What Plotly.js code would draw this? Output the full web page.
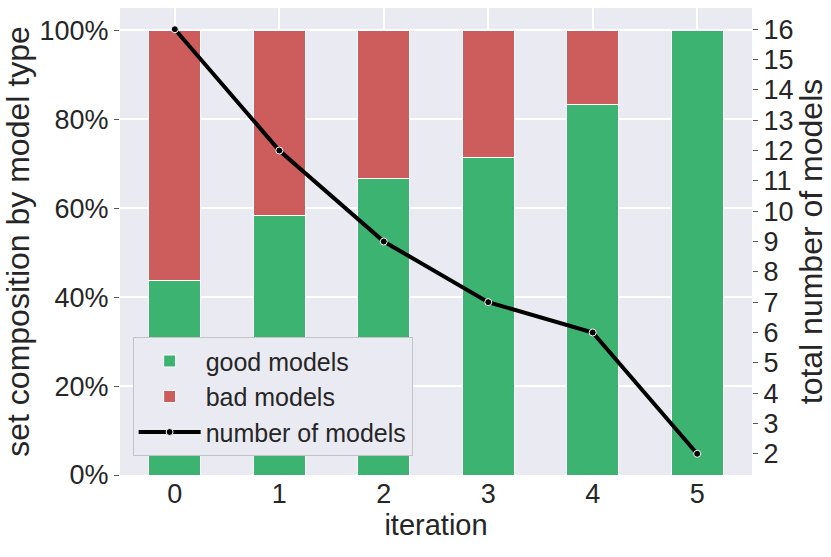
<!DOCTYPE html>
<html>
<head>
<meta charset="utf-8">
<script src="https://cdn.plot.ly/plotly-3.0.1.min.js"></script>
<style>
  html, body { margin: 0; padding: 0; background: #ffffff; }
  #chart { width: 831px; height: 557px; }
</style>
</head>
<body>
<div id="chart"></div>
<script>
// values
const iterations = [0, 1, 2, 3, 4, 5];
const goodShare = [0.4375, 0.583, 0.667, 0.714, 0.833, 1.0];
const badShare = [0.5625, 0.417, 0.333, 0.286, 0.167, 0.0];
const modelCounts = [16, 12, 9, 7, 6, 2];
const leftTicks = [0, 0.2, 0.4, 0.6, 0.8, 1.0];
const rightTicks = [2, 3, 4, 5, 6, 7, 8, 9, 10, 11, 12, 13, 14, 15, 16];

const FONT = 'Liberation Sans, Arial, Helvetica, sans-serif';
const INK = '#262626';

const traceGood = {
    x: iterations,
    y: goodShare,
    name: 'good models',
    type: 'bar',
    width: 0.5,
    legendgroup: 'g1',
    marker: {
        color: '#3cb371',
        line: { color: '#ffffff', width: 1 }
    },
    hovertemplate: 'iteration %{x}<br>good: %{y:.1%}<extra></extra>'
};

const traceBad = {
    x: iterations,
    y: badShare,
    name: 'bad models',
    type: 'bar',
    width: 0.5,
    legendgroup: 'g2',
    marker: {
        color: '#cd5c5c',
        line: { color: '#ffffff', width: 1 }
    },
    hovertemplate: 'iteration %{x}<br>bad: %{y:.1%}<extra></extra>'
};

const traceCount = {
    x: iterations,
    y: modelCounts,
    name: 'number of models',
    type: 'scatter',
    mode: 'lines+markers',
    yaxis: 'y2',
    legendgroup: 'g3',
    line: { color: '#000000', width: 4 },
    marker: {
        color: '#000000',
        size: 7,
        line: { color: '#ffffff', width: 1 }
    },
    hovertemplate: 'iteration %{x}<br>models: %{y}<extra></extra>'
};

const layout = {
    width: 831,
    height: 557,
    margin: { l: 120, r: 79, t: 8, b: 82 },
    paper_bgcolor: '#ffffff',
    plot_bgcolor: '#eaeaf2',
    barmode: 'stack',
    font: { family: FONT, color: INK, size: 27 },
    showlegend: true,
    legend: {
        x: 0.02,
        y: 0.295,
        xanchor: 'left',
        yanchor: 'top',
        bgcolor: '#eaeaf2',
        bordercolor: '#c4c4c8',
        borderwidth: 1,
        tracegroupgap: 12,
        traceorder: 'normal',
        itemwidth: 62,
        font: { family: FONT, color: INK, size: 25 }
    },
    xaxis: {
        title: { text: 'iteration', font: { size: 29 }, standoff: 4 },
        range: [-0.525, 5.525],
        tickvals: iterations,
        ticks: '',
        showgrid: true,
        gridcolor: '#ffffff',
        gridwidth: 1.5,
        zeroline: false,
        showline: false,
        tickfont: { size: 27 }
    },
    yaxis: {
        title: { text: 'set composition by model type', font: { size: 32 }, standoff: 2 },
        range: [0, 1.05],
        tickvals: leftTicks,
        tickformat: '.0%',
        ticks: 'outside',
        ticklen: 5,
        tickcolor: '#555555',
        showgrid: true,
        gridcolor: '#ffffff',
        gridwidth: 1.5,
        zeroline: false,
        showline: false,
        tickfont: { size: 27 }
    },
    yaxis2: {
        title: { text: 'total number of models', font: { size: 32 }, standoff: 0 },
        overlaying: 'y',
        side: 'right',
        range: [1.3, 16.7],
        tickvals: rightTicks,
        ticks: 'outside',
        ticklen: 5,
        tickcolor: '#555555',
        showgrid: false,
        zeroline: false,
        showline: false,
        tickfont: { size: 27 }
    }
};

const config = {
    responsive: false,
    displayModeBar: false
};

Plotly.newPlot('chart', [traceGood, traceBad, traceCount], layout, config);
</script>
</body>
</html>
